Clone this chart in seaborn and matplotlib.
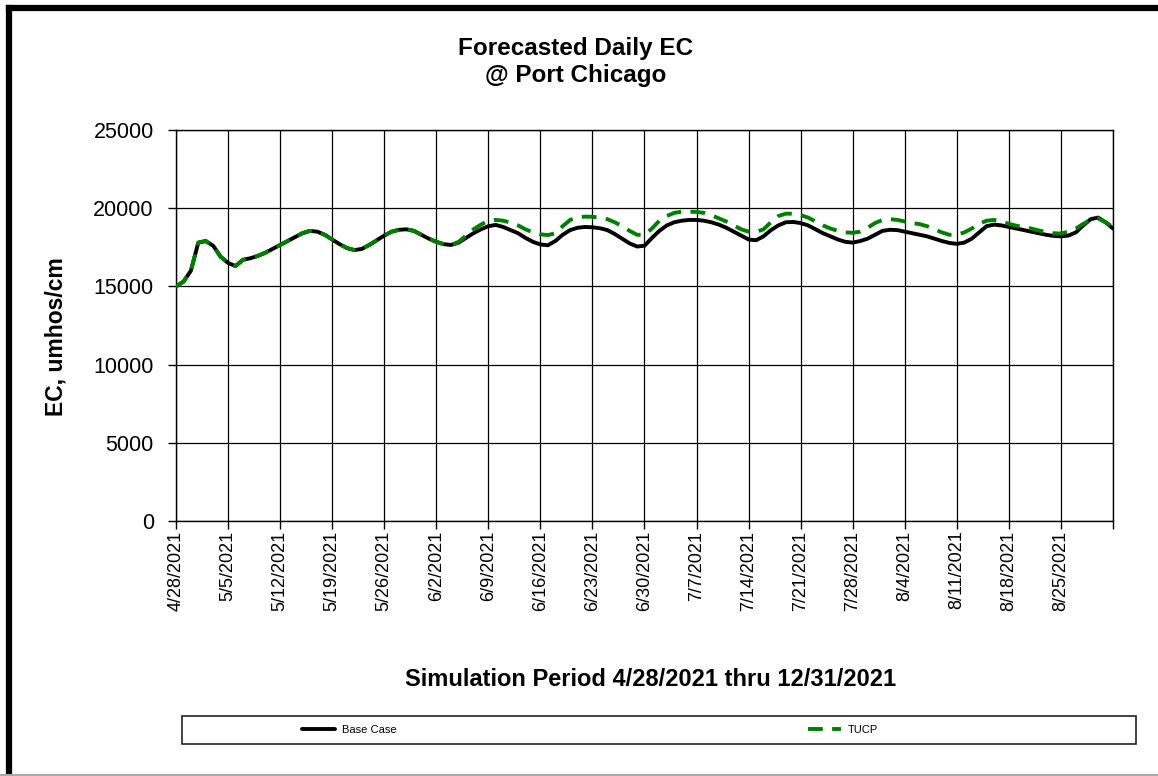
import numpy as np
import pandas as pd
import matplotlib
matplotlib.use("Agg")
import matplotlib.pyplot as plt
from matplotlib.lines import Line2D
from matplotlib.patches import Rectangle
import seaborn as sns

# ---------------- data ----------------
start_date = "2021-04-28"
n_days = 127  # 4/28/2021 .. 9/1/2021

base_case = [
    15000, 15300, 16000, 17800, 17900, 17600, 16900, 16500, 16300, 16700,
    16800, 16950, 17150, 17400, 17650, 17900, 18150, 18400, 18550, 18500,
    18300, 18000, 17700, 17450, 17320, 17400, 17650, 17950, 18250, 18500,
    18620, 18650, 18550, 18300, 18050, 17850, 17700, 17650, 17800, 18100,
    18400, 18650, 18850, 18930, 18800, 18600, 18400, 18100, 17850, 17680,
    17630, 17900, 18300, 18600, 18750, 18800, 18780, 18720, 18600, 18350,
    18050, 17750, 17550, 17600, 18100, 18550, 18900, 19100, 19200, 19250,
    19250, 19200, 19100, 18950, 18750, 18500, 18250, 18000, 17950, 18200,
    18600, 18900, 19100, 19120, 19050, 18900, 18650, 18400, 18200, 18000,
    17850, 17800, 17900, 18050, 18300, 18550, 18620, 18600, 18500, 18400,
    18300, 18200, 18050, 17900, 17780, 17720, 17800, 18050, 18450, 18850,
    18950, 18900, 18800, 18700, 18600, 18500, 18400, 18300, 18230, 18200,
    18250, 18450, 18900, 19300, 19400, 19100, 18700,
]

tucp = [
    15000, 15300, 16000, 17800, 17900, 17600, 16900, 16500, 16300, 16700,
    16800, 16950, 17150, 17400, 17650, 17900, 18150, 18400, 18550, 18500,
    18300, 18000, 17700, 17450, 17320, 17400, 17650, 17950, 18250, 18500,
    18620, 18650, 18550, 18300, 18050, 17850, 17700, 17650, 17850, 18250,
    18650, 18950, 19200, 19250, 19200, 19080, 18900, 18650, 18450, 18330,
    18280, 18400, 18850, 19250, 19420, 19460, 19450, 19400, 19300, 19100,
    18850, 18550, 18300, 18300, 18700, 19200, 19500, 19700, 19780, 19780,
    19760, 19700, 19550, 19350, 19150, 18900, 18650, 18500, 18480, 18650,
    19100, 19500, 19650, 19650, 19560, 19400, 19150, 18900, 18700, 18550,
    18450, 18430, 18500, 18750, 19050, 19250, 19300, 19250, 19150, 19050,
    18980, 18850, 18650, 18450, 18300, 18300, 18450, 18700, 19000, 19200,
    19250, 19150, 19000, 18880, 18800, 18700, 18580, 18480, 18400, 18380,
    18500, 18700, 19000, 19250, 19350, 19100, 18800,
]

series_names = ["Base Case", "TUCP"]
tick_labels = ["4/28/2021", "5/5/2021", "5/12/2021", "5/19/2021", "5/26/2021",
               "6/2/2021", "6/9/2021", "6/16/2021", "6/23/2021", "6/30/2021",
               "7/7/2021", "7/14/2021", "7/21/2021", "7/28/2021", "8/4/2021",
               "8/11/2021", "8/18/2021", "8/25/2021"]
y_ticks = [0, 5000, 10000, 15000, 20000, 25000]

dates = pd.date_range(start_date, periods=n_days, freq="D")
df = pd.DataFrame({"Date": dates, series_names[0]: base_case, series_names[1]: tucp})

# ---------------- style ----------------
sns.set_theme(style="white")
plt.rcParams["font.family"] = ["Liberation Sans", "DejaVu Sans"]
plt.rcParams["text.color"] = "black"
plt.rcParams["axes.labelcolor"] = "black"
plt.rcParams["xtick.color"] = "black"
plt.rcParams["ytick.color"] = "black"

fig = plt.figure(figsize=(11.58, 7.76), dpi=100)
ax = fig.add_axes([176 / 1158, 1 - 521 / 776, (1113 - 176) / 1158, (521 - 130) / 776])

sns.lineplot(data=df, x="Date", y=series_names[0], ax=ax, color="black",
             linewidth=2.8, label=series_names[0], zorder=3)
sns.lineplot(data=df, x="Date", y=series_names[1], ax=ax, color="#008000",
             linewidth=2.8, linestyle=(0, (3.8, 2.4)), label=series_names[1],
             zorder=4)
for ln in ax.lines:
    ln.set_dash_capstyle("butt")
    ln.set_solid_joinstyle("round")
    ln.set_dash_joinstyle("round")

ax.set_xlim(dates[0], dates[-1])
ax.set_ylim(0, 25000)
ax.set_yticks(y_ticks)
ax.set_yticklabels([str(v) for v in y_ticks])
tick_pos = pd.date_range(start_date, periods=len(tick_labels), freq="7D")
ax.set_xticks(list(tick_pos) + [dates[-1]])
ax.set_xticklabels(tick_labels + [""], rotation=90)

ax.grid(True, color="black", linewidth=0.9)
ax.set_axisbelow(True)
for s in ax.spines.values():
    s.set_color("black")
    s.set_linewidth(1.0)
ax.tick_params(axis="both", direction="out", length=6, width=1, color="black",
               bottom=True, left=True)
ax.tick_params(axis="y", labelsize=15.5, pad=10, labelcolor="black")
ax.tick_params(axis="x", labelsize=13, pad=1, labelcolor="black")

ax.set_xlabel("Simulation Period 4/28/2021 thru 12/31/2021", fontsize=17,
              fontweight="bold")
ax.set_ylabel("EC, umhos/cm", fontsize=16.5, fontweight="bold")
ax.xaxis.set_label_coords((651 - 176) / 937, -(679 - 521) / 391)
ax.yaxis.set_label_coords(-(176 - 56) / 937, (521 - 337) / 391)
ax.xaxis.label.set_va("center")
ax.yaxis.label.set_va("center")

fig.text(0.497, 1 - 62 / 776, "Forecasted Daily EC\n@ Port Chicago", ha="center",
         va="center", fontsize=17.5, fontweight="bold", linespacing=1.2)

# legend
handles, labels = ax.get_legend_handles_labels()
ax.get_legend().remove()
leg = fig.legend(handles, labels, loc="center",
                 bbox_to_anchor=(590 / 1158, 1 - 730 / 776), ncol=2,
                 frameon=False, fontsize=8, handlelength=3.0,
                 handletextpad=0.6, columnspacing=37)
fig.add_artist(Rectangle((182 / 1158, 1 - 744 / 776), (1136 - 182) / 1158,
                         28 / 776, transform=fig.transFigure, fill=False,
                         edgecolor="#222222", linewidth=1.2))

# outer page border (top & left thick, bottom thin grey)
fig.add_artist(Line2D([9 / 1158, 9 / 1158], [0, 1 - 8 / 776], transform=fig.transFigure,
                      color="black", linewidth=4.5, solid_capstyle="projecting"))
fig.add_artist(Line2D([9 / 1158, 1], [1 - 8 / 776, 1 - 8 / 776], transform=fig.transFigure,
                      color="black", linewidth=4.5, solid_capstyle="projecting"))
fig.add_artist(Line2D([0, 1], [1.2 / 776, 1.2 / 776], transform=fig.transFigure,
                      color="#aaaaaa", linewidth=1.5))

fig.savefig("out.png", dpi=100, facecolor="white")
